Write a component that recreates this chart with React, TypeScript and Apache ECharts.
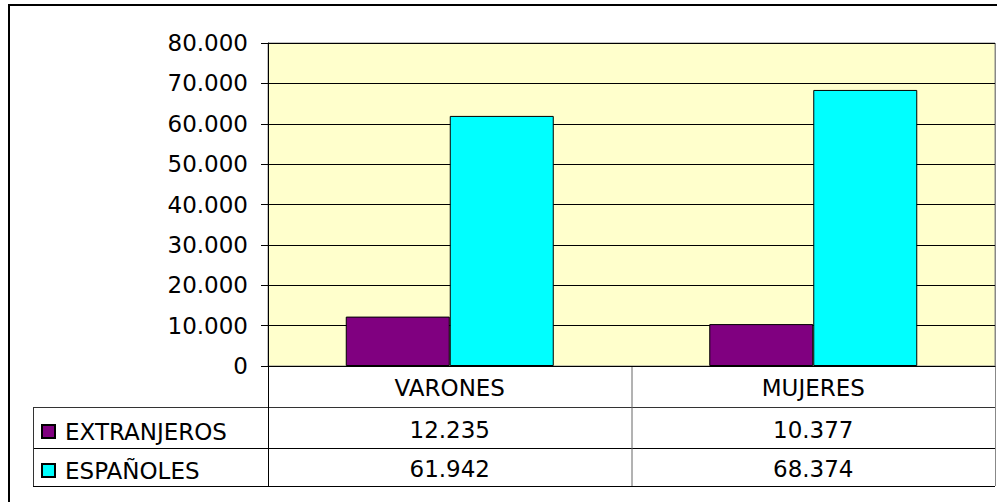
import React, { useEffect, useRef } from "react";
import * as echarts from "echarts";

const categories = ["VARONES", "MUJERES"];
const seriesNames = ["EXTRANJEROS", "ESPAÑOLES"];
const extranjeros = [12235, 10377];
const espanoles = [61942, 68374];
const colors = ["#800080", "#00FFFF"];

const fmt = (v: number) => {
  const s = Math.round(v).toString();
  return s.replace(/\B(?=(\d{3})+(?!\d))/g, ".");
};

export default function App() {
  const ref = useRef<HTMLDivElement>(null);
  useEffect(() => {
    document.body.style.margin = "0";
    if (!ref.current) return;
    const chart = echarts.init(ref.current, undefined, { renderer: "svg" });
    const gLeft = 268, gTop = 43, gRight = 995, gBottom = 366;
    const row1 = 407, row2 = 448, row3 = 486;
    const tblLeft = 33;
    const catW = (gRight - gLeft) / categories.length;
    const font = "DejaVu Sans";
    const lineEl = (x1: number, y1: number, x2: number, y2: number, c = "#000") => ({
      type: "line",
      shape: { x1, y1, x2, y2 },
      style: { stroke: c, lineWidth: 1 },
      silent: true,
    });
    const graphics: any[] = [
      {
        type: "rect",
        shape: { x: 9, y: 5, width: 1000, height: 510 },
        style: { fill: "none", stroke: "#000", lineWidth: 2 },
        silent: true,
      },
      lineEl(tblLeft, row1 + 0.5, gRight, row1 + 0.5, "#333"),
      lineEl(tblLeft, row2 + 0.5, gRight, row2 + 0.5, "#000"),
      lineEl(tblLeft, row3 + 0.5, gRight, row3 + 0.5, "#000"),
      lineEl(tblLeft + 0.5, row1, tblLeft + 0.5, row3, "#333"),
      lineEl(gLeft + 0.5, gBottom, gLeft + 0.5, row3, "#000"),
      lineEl(gLeft + catW + 0.5, gBottom, gLeft + catW + 0.5, row3, "#666"),
      lineEl(gRight + 0.5, gTop, gRight + 0.5, row3, "#888"),
    ];
    const rowsData = [extranjeros, espanoles];
    const rowCenters = [(row1 + row2) / 2 + 2, (row2 + row3) / 2 + 2];
    rowsData.forEach((arr, ri) => {
      arr.forEach((v, ci) => {
        graphics.push({
          type: "text",
          x: gLeft + catW * (ci + 0.5),
          y: rowCenters[ri],
          style: {
            text: fmt(v),
            fontSize: 23,
            fontFamily: font,
            fill: "#000",
            align: "center",
            verticalAlign: "middle",
          },
          silent: true,
        });
      });
    });

    chart.setOption({
      animation: false,
      grid: {
        left: gLeft,
        top: gTop,
        width: gRight - gLeft,
        height: gBottom - gTop,
        show: true,
        backgroundColor: "#FFFFCC",
        borderColor: "#888",
        borderWidth: 1,
      },
      legend: {
        orient: "vertical",
        left: 41,
        top: 420,
        padding: 0,
        itemWidth: 13,
        itemHeight: 13,
        itemGap: 16,
        icon: "rect",
        data: seriesNames,
        textStyle: {
          fontSize: 23,
          lineHeight: 23,
          fontFamily: font,
          color: "#000",
          padding: [0, 0, 0, 5],
        },
      },
      xAxis: {
        type: "category",
        data: categories,
        axisLine: { show: true, lineStyle: { color: "#000", width: 1 } },
        axisTick: { show: false },
        axisLabel: {
          fontSize: 23,
          fontFamily: font,
          color: "#000",
          margin: 10,
        },
      },
      yAxis: {
        type: "value",
        min: 0,
        max: 80000,
        interval: 10000,
        axisLine: { show: true, lineStyle: { color: "#000", width: 1 } },
        axisTick: { show: true, inside: false, length: 7, lineStyle: { color: "#000" } },
        splitLine: { show: true, lineStyle: { color: "#000", width: 1 } },
        axisLabel: {
          fontSize: 23,
          fontFamily: font,
          color: "#000",
          margin: 20,
          formatter: (v: number) => fmt(v),
        },
      },
      series: [
        {
          name: seriesNames[0],
          type: "bar",
          data: extranjeros,
          barWidth: 104,
          barGap: "0%",
          itemStyle: { color: colors[0], borderColor: "#000", borderWidth: 1 },
        },
        {
          name: seriesNames[1],
          type: "bar",
          data: espanoles,
          barWidth: 104,
          barGap: "0%",
          itemStyle: { color: colors[1], borderColor: "#000", borderWidth: 1 },
        },
      ],
      graphic: graphics,
    });
    return () => chart.dispose();
  }, []);
  return <div ref={ref} style={{ width: 997, height: 502 }} />;
}
